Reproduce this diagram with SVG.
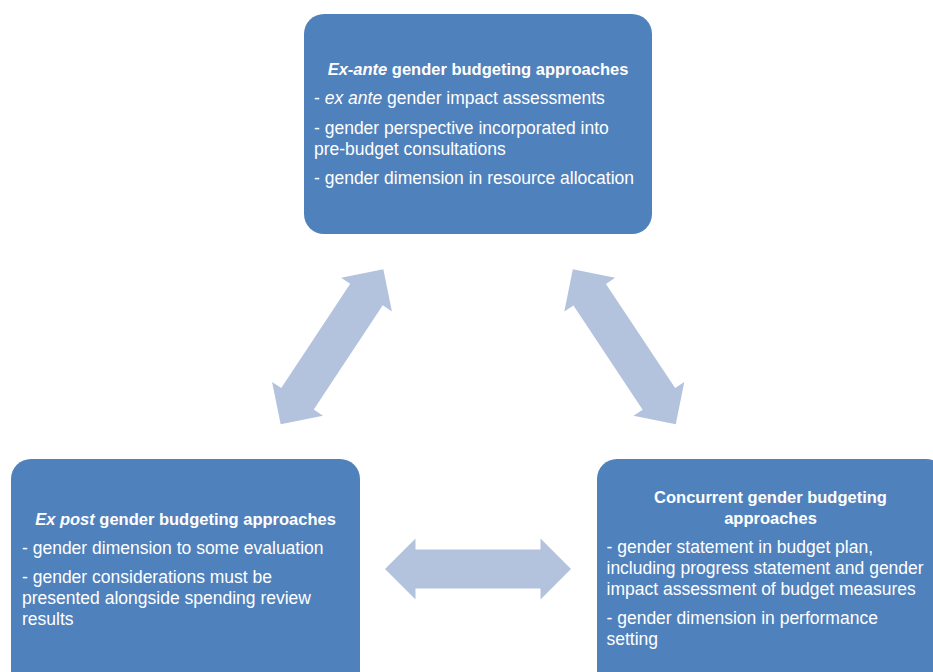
<svg xmlns="http://www.w3.org/2000/svg" xmlns:xlink="http://www.w3.org/1999/xlink" width="933" height="672" viewBox="0 0 933 672">
  <style>
    .box { fill: #4F81BD; }
    .arrow { fill: #B3C3DE; }
    text { font-family: "Liberation Sans", Arial, sans-serif; fill: #FFFFFF; }
    .title { font-size: 16.5px; font-weight: bold; text-anchor: middle; }
    .body { font-size: 17.5px; }
    .it { font-style: italic; }
  </style>
  <defs>
    <polygon id="dblArrow" points="-93,0 -62.5,-30.5 -62.5,-19.5 62.5,-19.5 62.5,-30.5 93,0 62.5,30.5 62.5,19.5 -62.5,19.5 -62.5,30.5"/>
  </defs>
  <rect width="933" height="672" fill="#FFFFFF"/>

  <g id="connectors">
    <use xlink:href="#dblArrow" href="#dblArrow" class="arrow" transform="translate(332,346.7) rotate(-56.5)"/>
    <use xlink:href="#dblArrow" href="#dblArrow" class="arrow" transform="translate(624.3,346.8) rotate(56.4)"/>
    <use xlink:href="#dblArrow" href="#dblArrow" class="arrow" transform="translate(478,569)"/>
  </g>

  <g id="node-exante">
    <rect class="box" x="304" y="14" width="348" height="220" rx="20" ry="20"/>
    <text class="title" x="478" y="74.5"><tspan class="it">Ex-ante</tspan> gender budgeting approaches</text>
    <text class="body" x="314" y="103.5">- <tspan class="it">ex ante</tspan> gender impact assessments</text>
    <text class="body" x="314" y="134">- gender perspective incorporated into</text>
    <text class="body" x="314" y="155">pre-budget consultations</text>
    <text class="body" x="314" y="184">- gender dimension in resource allocation</text>
  </g>

  <g id="node-expost">
    <rect class="box" x="11" y="459" width="349" height="240" rx="20" ry="20"/>
    <text class="title" x="185.5" y="525"><tspan class="it">Ex post</tspan> gender budgeting approaches</text>
    <text class="body" x="22" y="553.5">- gender dimension to some evaluation</text>
    <text class="body" x="22" y="582.5">- gender considerations must be</text>
    <text class="body" x="22" y="604">presented alongside spending review</text>
    <text class="body" x="22" y="625">results</text>
  </g>

  <g id="node-concurrent">
    <rect class="box" x="597" y="459" width="349" height="240" rx="20" ry="20"/>
    <text class="title" x="770.5" y="503.3">Concurrent gender budgeting</text>
    <text class="title" x="770.5" y="523.5">approaches</text>
    <text class="body" x="606.5" y="553">- gender statement in budget plan,</text>
    <text class="body" x="606.5" y="573.5">including progress statement and gender</text>
    <text class="body" x="606.5" y="595">impact assessment of budget measures</text>
    <text class="body" x="606.5" y="624">- gender dimension in performance</text>
    <text class="body" x="606.5" y="645">setting</text>
  </g>
</svg>
